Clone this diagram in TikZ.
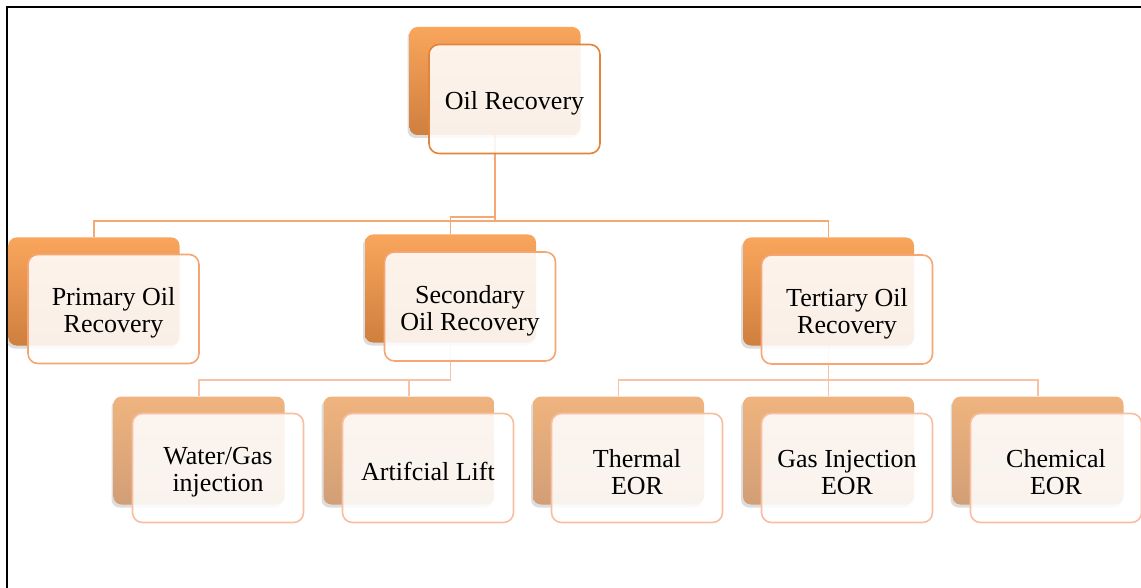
\documentclass[tikz,border=0pt]{standalone}
\usepackage{fontspec}
\setmainfont{Liberation Serif}
\usetikzlibrary{shadows,backgrounds}
\definecolor{orA}{HTML}{F9A55C}
\definecolor{orB}{HTML}{CF7F3E}
\definecolor{orC}{HTML}{EFB47E}
\definecolor{orD}{HTML}{D29E76}
\definecolor{edgeA}{HTML}{E2853A}
\definecolor{edgeB}{HTML}{F5A674}
\definecolor{edgeC}{HTML}{F8BEA0}
\definecolor{lineA}{HTML}{F6A874}
\definecolor{lineB}{HTML}{F8C2A4}
\newcommand\toppad{\rule{0pt}{26pt}}
\begin{document}
\begin{tikzpicture}[x=1pt,y=-1pt,
  backbox/.style={rectangle, rounded corners=8pt, minimum width=171pt, minimum height=108pt, inner sep=0pt,
    top color=orA, bottom color=orB,
    drop shadow={shadow xshift=-2pt, shadow yshift=-3pt, opacity=0.22, fill=black!60}},
  backlow/.style={backbox, top color=orC, bottom color=orD},
  frontbox/.style={rectangle, rounded corners=10pt, minimum width=171pt, minimum height=109pt, inner sep=2pt,
    draw=edgeB, line width=1.6pt, fill=white, fill opacity=0.88, text opacity=1, align=center,
    font=\fontsize{26pt}{27pt}\selectfont},
  fronttop/.style={frontbox, draw=edgeA},
  frontlow/.style={frontbox, draw=edgeC},
  conn/.style={draw=lineA, line width=1.8pt},
  connlow/.style={draw=lineB, line width=1.8pt},
  frameline/.style={draw=black, line width=2pt}
]
\useasboundingbox (0,0) rectangle (1141,588);
\clip (0,0) rectangle (1141,588);
\draw[frameline] (7,700) -- (7,7) -- (1200,7);

% junction levels
\coordinate (j1) at (0,221);
\coordinate (j2) at (0,217);
\coordinate (j3) at (0,380);

% level 0
\node[backbox] (b0) at (495,81) {};
\node[fronttop] (n0) at (514.5,99) {\toppad Oil Recovery};

% level 1
\node[backbox] (b1) at (94,291.5) {};
\node[frontbox] (n1) at (113.5,309) {\toppad Primary Oil\\Recovery};
\node[backbox] (b2) at (450.5,288.5) {};
\node[frontbox] (n2) at (470,306.5) {\toppad Secondary\\Oil Recovery};
\node[backbox] (b3) at (828.5,291.5) {};
\node[frontbox] (n3) at (847,309.5) {\toppad Tertiary Oil\\Recovery};

% level 2
\node[backlow] (b4) at (199,450.5) {};
\node[frontlow] (n4) at (218,468) {\toppad Water/Gas\\injection};
\node[backlow] (b5) at (409,450.5) {};
\node[frontlow] (n5) at (428,468) {\toppad Artifcial Lift};
\node[backlow] (b6) at (618.5,450.5) {};
\node[frontlow] (n6) at (637,468) {\toppad Thermal\\EOR};
\node[backlow] (b7) at (828.5,450.5) {};
\node[frontlow] (n7) at (847,468) {\toppad Gas Injection\\EOR};
\node[backlow] (b8) at (1038,450.5) {};
\node[frontlow] (n8) at (1056,468) {\toppad Chemical\\EOR};

\begin{scope}[on background layer]
  \draw[conn] (b0.south) -- (b0.south |- j1) -| (b1.north);
  \draw[conn] (b0.south) -- (b0.south |- j2) -| (b2.north);
  \draw[conn] (b0.south) -- (b0.south |- j1) -| (b3.north);
  \draw[connlow] (b2.south) -- (b2.south |- j3) -| (b4.north);
  \draw[connlow] (b2.south) -- (b2.south |- j3) -| (b5.north);
  \draw[connlow] (b3.south) -- (b3.south |- j3) -| (b6.north);
  \draw[connlow] (b3.south) -- (b3.south |- j3) -| (b7.north);
  \draw[connlow] (b3.south) -- (b3.south |- j3) -| (b8.north);
\end{scope}
\end{tikzpicture}
\end{document}
